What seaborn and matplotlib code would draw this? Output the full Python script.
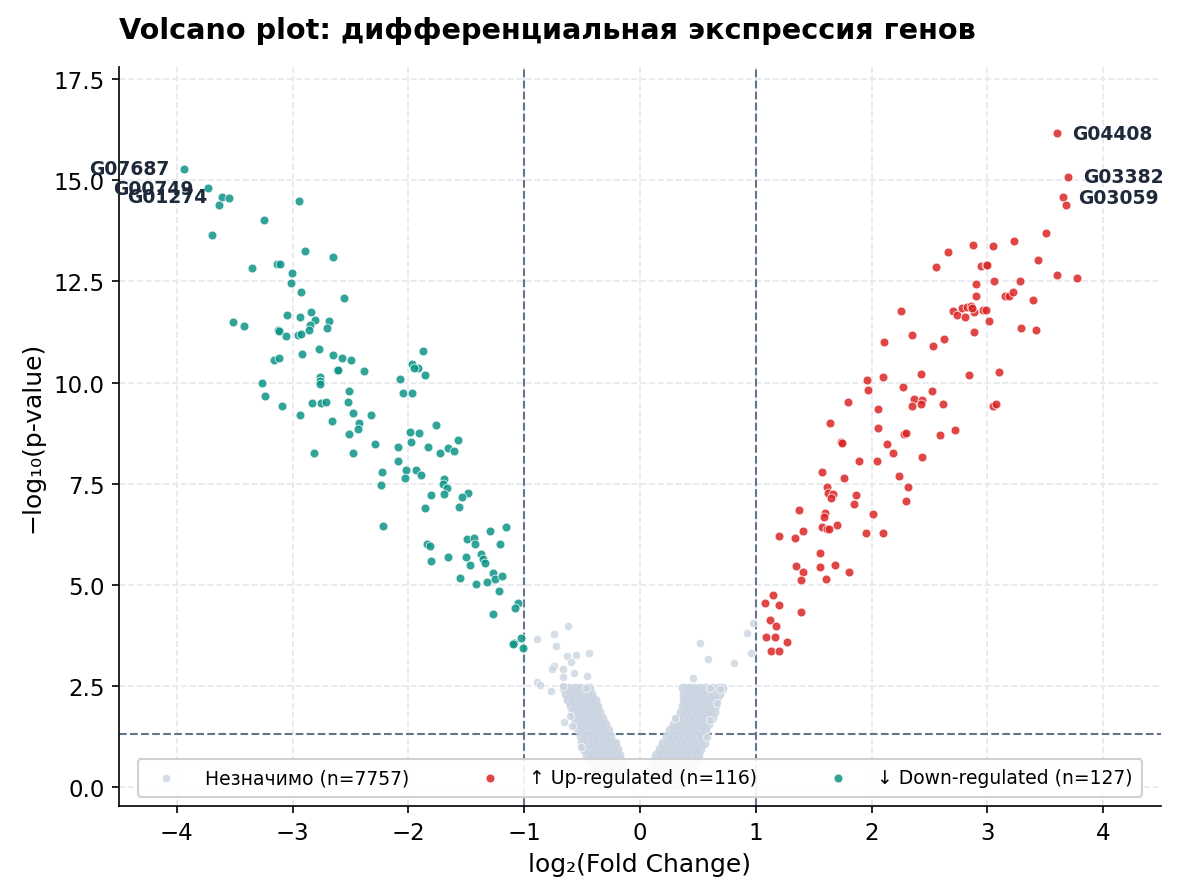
import pandas as pd
import seaborn as sns
import matplotlib.pyplot as plt

# down-regulated genes (log2FC, -log10 p)
down_x = [-3.937, -3.730, -3.614, -3.553, -3.634, -2.946, -3.246, -3.695, -2.891, -2.650,
          -3.349, -3.139, -3.107, -3.004, -3.015, -2.929, -2.555, -2.842, -3.050, -2.937,
          -2.805, -2.684, -3.513, -3.421, -2.854, -2.704, -3.127, -3.120, -2.860, -2.957,
          -2.926, -3.061, -2.773, -1.872, -2.917, -3.159, -3.116, -2.650, -2.572, -2.499,
          -1.970, -1.915, -1.860, -2.615, -2.610, -2.382, -2.071, -2.765, -2.760, -2.765,
          -3.263, -2.511, -2.045, -1.967, -3.237, -2.520, -2.834, -2.753, -2.710, -3.090,
          -2.477, -2.321, -2.937, -2.425, -2.434, -2.658, -1.762, -2.511, -1.984, -1.907,
          -1.976, -1.572, -2.289, -2.088, -1.832, -1.659, -1.607, -1.728, -2.814, -2.477,
          -2.088, -2.019, -1.938, -1.895, -2.030, -2.226, -2.238, -1.690, -1.699, -1.665,
          -1.690, -1.803, -1.483, -1.535, -1.855, -1.564, -2.218, -1.293, -1.155, -1.840,
          -1.811, -1.495, -1.437, -1.423, -1.210, -1.803, -1.656, -1.501, -1.466, -1.371,
          -1.354, -1.336, -1.553, -1.414, -1.319, -1.267, -1.255, -1.195, -1.216, -1.051,
          -1.077, -1.267, -1.028, -1.086, -1.100, -1.008, -1.950]
down_y = [15.29, 14.80, 14.60, 14.57, 14.40, 14.48, 14.01, 13.66, 13.26, 13.10,
          12.84, 12.94, 12.94, 12.72, 12.47, 12.23, 12.09, 11.74, 11.67, 11.61,
          11.56, 11.52, 11.51, 11.39, 11.43, 11.36, 11.29, 11.27, 11.29, 11.18,
          11.20, 11.14, 10.84, 10.77, 10.70, 10.57, 10.62, 10.68, 10.60, 10.55,
          10.45, 10.35, 10.20, 10.32, 10.30, 10.28, 10.08, 10.14, 10.04, 9.96,
          10.00, 9.80, 9.74, 9.74, 9.68, 9.53, 9.50, 9.49, 9.52, 9.43,
          9.24, 9.19, 9.19, 9.00, 8.85, 9.05, 8.94, 8.72, 8.77, 8.75,
          8.52, 8.58, 8.47, 8.40, 8.40, 8.38, 8.30, 8.27, 8.25, 8.25,
          8.05, 7.84, 7.83, 7.71, 7.63, 7.80, 7.46, 7.61, 7.49, 7.39,
          7.24, 7.22, 7.27, 7.16, 6.91, 6.93, 6.45, 6.34, 6.44, 6.02,
          5.97, 6.13, 6.15, 6.00, 6.00, 5.59, 5.68, 5.70, 5.50, 5.77,
          5.64, 5.55, 5.17, 5.03, 5.08, 5.29, 5.15, 5.23, 4.84, 4.56,
          4.42, 4.28, 3.68, 3.56, 3.53, 3.43, 10.37]

# up-regulated genes
up_x = [3.605, 3.700, 3.657, 3.683, 3.510, 2.880, 3.052, 2.661, 3.234, 2.560,
        2.949, 2.992, 3.441, 3.605, 3.778, 2.905, 3.061, 3.286, 2.905, 3.153,
        3.191, 3.225, 3.395, 2.258, 2.707, 2.741, 2.782, 2.811, 2.822, 2.857,
        2.883, 2.966, 2.989, 3.018, 3.294, 3.424, 2.350, 2.888, 2.111, 2.629,
        2.534, 2.430, 2.845, 3.104, 1.958, 2.102, 1.972, 2.275, 2.520, 1.800,
        2.370, 2.434, 2.353, 2.425, 2.621, 3.052, 3.073, 2.054, 1.641, 2.059,
        2.278, 2.298, 2.594, 2.724, 1.739, 1.745, 2.131, 2.188, 1.889, 2.045,
        2.439, 1.765, 2.240, 2.318, 2.301, 1.869, 1.575, 1.618, 1.627, 1.670,
        1.653, 1.851, 1.376, 1.598, 1.592, 2.016, 1.705, 1.572, 1.616, 1.630,
        1.411, 1.204, 1.342, 1.955, 2.102, 1.558, 1.350, 1.558, 1.687, 1.411,
        1.808, 1.394, 1.610, 1.152, 1.083, 1.204, 1.394, 1.126, 1.178, 1.091,
        1.169, 1.267, 1.134, 1.204, 2.870, 3.000]
up_y = [16.16, 15.09, 14.58, 14.39, 13.71, 13.41, 13.38, 13.24, 13.51, 12.87,
        12.89, 12.91, 13.04, 12.65, 12.58, 12.45, 12.52, 12.50, 12.15, 12.13,
        12.13, 12.25, 12.05, 11.78, 11.78, 11.66, 11.84, 11.63, 11.87, 11.90,
        11.75, 11.80, 11.80, 11.53, 11.36, 11.30, 11.18, 11.25, 11.01, 11.09,
        10.90, 10.22, 10.18, 10.25, 10.06, 10.13, 9.81, 9.90, 9.78, 9.52,
        9.59, 9.57, 9.41, 9.47, 9.48, 9.43, 9.46, 9.34, 8.99, 8.87,
        8.72, 8.75, 8.71, 8.82, 8.52, 8.50, 8.47, 8.27, 8.05, 8.07,
        8.17, 7.65, 7.68, 7.41, 7.06, 7.22, 7.80, 7.43, 7.26, 7.24,
        7.14, 7.01, 6.84, 6.77, 6.68, 6.74, 6.49, 6.42, 6.38, 6.39,
        6.33, 6.20, 6.15, 6.27, 6.29, 5.78, 5.46, 5.44, 5.49, 5.31,
        5.31, 5.11, 5.14, 4.74, 4.56, 4.50, 4.33, 4.12, 3.97, 3.70,
        3.72, 3.58, 3.36, 3.36, 11.84, 12.90]

# non-significant: scattered points
ns_x = [-0.625, -0.740, -0.887, -0.723, -0.438, -0.633, -0.550, -0.596, -0.740, -0.763,
        -0.665, -0.570, -0.668, -0.455, -0.887, -0.867, -0.668, -0.769, -0.466, -0.654,
        -0.510, -0.605, -0.590,
        0.979, 0.922, 0.959, 0.516, 0.590, 0.809, 0.461, 0.605, 0.691, 0.302,
        0.605, 0.582, 0.668]
ns_y = [3.99, 3.78, 3.65, 3.48, 3.31, 3.23, 3.26, 3.08, 3.00, 2.93,
        2.93, 2.83, 2.71, 2.74, 2.60, 2.52, 2.50, 2.37, 2.46, 1.60,
        0.99, 1.76, 1.52,
        4.05, 3.80, 3.31, 3.55, 3.16, 3.06, 2.69, 2.46, 2.42, 1.71,
        1.66, 1.23, 2.07]

# non-significant: dense arms, read row by row
core_y = [2.45, 2.30, 2.15, 2.00, 1.85, 1.70, 1.55, 1.40, 1.25,
          1.10, 0.95, 0.80, 0.65, 0.50, 0.35, 0.20, 0.05]
core_left_x = [
    [-0.66, -0.61, -0.56, -0.52, -0.47, -0.44],
    [-0.64, -0.59, -0.55, -0.50, -0.46, -0.42],
    [-0.62, -0.57, -0.52, -0.48, -0.43, -0.39],
    [-0.60, -0.55, -0.51, -0.46, -0.41, -0.37],
    [-0.58, -0.53, -0.49, -0.44, -0.39, -0.35],
    [-0.56, -0.52, -0.47, -0.42, -0.37, -0.33],
    [-0.55, -0.50, -0.45, -0.40, -0.35, -0.30],
    [-0.53, -0.48, -0.43, -0.38, -0.33, -0.28],
    [-0.51, -0.46, -0.41, -0.36, -0.31, -0.26],
    [-0.50, -0.45, -0.40, -0.35, -0.30, -0.25, -0.22],
    [-0.48, -0.43, -0.38, -0.33, -0.28, -0.24, -0.20],
    [-0.46, -0.41, -0.36, -0.31, -0.27, -0.22, -0.18],
    [-0.44, -0.39, -0.34, -0.30, -0.25, -0.20, -0.16],
    [-0.42, -0.37, -0.32, -0.28, -0.23, -0.18, -0.13],
    [-0.39, -0.35, -0.30, -0.25, -0.21, -0.16, -0.11],
    [-0.37, -0.32, -0.28, -0.23, -0.18, -0.14, -0.09],
    [-0.34, -0.29, -0.25, -0.20, -0.16, -0.11, -0.07],
]
core_right_x = [
    [0.37, 0.42, 0.47, 0.52, 0.57, 0.62, 0.67, 0.71],
    [0.38, 0.43, 0.48, 0.53, 0.58, 0.63, 0.68],
    [0.38, 0.43, 0.48, 0.53, 0.58, 0.62, 0.66],
    [0.37, 0.42, 0.47, 0.52, 0.57, 0.61, 0.65],
    [0.35, 0.40, 0.45, 0.50, 0.55, 0.60, 0.64],
    [0.32, 0.37, 0.42, 0.47, 0.52, 0.57, 0.62],
    [0.29, 0.34, 0.39, 0.44, 0.49, 0.54, 0.59],
    [0.26, 0.31, 0.36, 0.41, 0.46, 0.51, 0.56],
    [0.23, 0.28, 0.33, 0.38, 0.43, 0.48, 0.54],
    [0.20, 0.25, 0.30, 0.35, 0.40, 0.45, 0.50, 0.55],
    [0.17, 0.22, 0.27, 0.32, 0.37, 0.42, 0.47, 0.52],
    [0.14, 0.19, 0.24, 0.29, 0.34, 0.39, 0.44, 0.50],
    [0.12, 0.17, 0.22, 0.27, 0.32, 0.37, 0.42, 0.48],
    [0.10, 0.15, 0.20, 0.25, 0.30, 0.35, 0.40, 0.45],
    [0.08, 0.13, 0.18, 0.23, 0.28, 0.33, 0.38, 0.42],
    [0.07, 0.11, 0.16, 0.21, 0.26, 0.31, 0.35, 0.39],
    [0.06, 0.10, 0.14, 0.19, 0.24, 0.29, 0.33],
]

labels_up = ["G04408", "G03382", "G03059"]
labels_down = ["G07687", "G00749", "G01274"]
counts = [7757, 116, 127]

fc_thr = 1.0
p_thr = 1.3010  # -log10(0.05)

# сборка плотного серого облака
cx, cy = [], []
for yv, xs_l, xs_r in zip(core_y, core_left_x, core_right_x):
    for xv in xs_l + xs_r:
        cx.append(xv)
        cy.append(yv)
core_df = pd.DataFrame({"x": cx, "y": cy})
ns_df = pd.DataFrame({"x": ns_x, "y": ns_y})
up_df = pd.DataFrame({"x": up_x, "y": up_y})
down_df = pd.DataFrame({"x": down_x, "y": down_y})

sns.set_style("ticks")
plt.rcParams["font.family"] = ["DejaVu Sans"]
plt.rcParams.update({"text.color": "black", "axes.labelcolor": "black",
                     "xtick.color": "black", "ytick.color": "black",
                     "axes.edgecolor": "black"})

fig, ax = plt.subplots(figsize=(7.853, 5.973), dpi=150)
fig.subplots_adjust(left=0.101, right=0.9856, bottom=0.0993, top=0.924)

ax.grid(True, ls="--", color="#e5e7eb", lw=0.8, zorder=0)
ax.set_axisbelow(True)

sns.scatterplot(data=core_df, x="x", y="y", ax=ax, color="#cbd5e1", s=22, alpha=0.9,
                edgecolor="#cbd5e1", linewidth=0, zorder=2)
sns.scatterplot(data=ns_df, x="x", y="y", ax=ax, color="#cbd5e1", s=16, alpha=0.8,
                edgecolor="white", linewidth=0.4, label=f"Незначимо (n={counts[0]})", zorder=2)
sns.scatterplot(data=up_df, x="x", y="y", ax=ax, color="#dc2626", s=18, alpha=0.85,
                edgecolor="white", linewidth=0.4, label=f"↑ Up-regulated (n={counts[1]})", zorder=3)
sns.scatterplot(data=down_df, x="x", y="y", ax=ax, color="#0d9488", s=18, alpha=0.85,
                edgecolor="white", linewidth=0.4, label=f"↓ Down-regulated (n={counts[2]})", zorder=3)

ax.axvline(-fc_thr, color="#64748b", ls="--", lw=1, zorder=1)
ax.axvline(fc_thr, color="#64748b", ls="--", lw=1, zorder=1)
ax.axhline(p_thr, color="#64748b", ls="--", lw=1, zorder=1)

for i, name in enumerate(labels_up):
    ax.annotate(name, (up_x[i], up_y[i]), xytext=(7, 0), textcoords="offset points",
                ha="left", va="center", fontsize=9, fontweight="bold", color="#1e293b")
for i, name in enumerate(labels_down):
    ax.annotate(name, (down_x[i], down_y[i]), xytext=(-7, 0), textcoords="offset points",
                ha="right", va="center", fontsize=9, fontweight="bold", color="#1e293b")

ax.set_xlim(-4.5, 4.5)
ax.set_ylim(-0.47, 17.8)
ax.set_xticks(range(-4, 5))
ax.tick_params(labelsize=11)
ax.set_xlabel("log₂(Fold Change)", fontsize=12)
ax.set_ylabel("−log₁₀(p-value)", fontsize=12)
ax.set_title("Volcano plot: дифференциальная экспрессия генов", loc="left",
             fontsize=13.8, fontweight="bold", pad=14)
sns.despine(ax=ax)

ax.legend(loc="lower center", ncol=3, fontsize=9, frameon=True, framealpha=0.9,
          columnspacing=3.3, handletextpad=1.1, borderpad=0.5)

fig.savefig("out.png", dpi=150)
